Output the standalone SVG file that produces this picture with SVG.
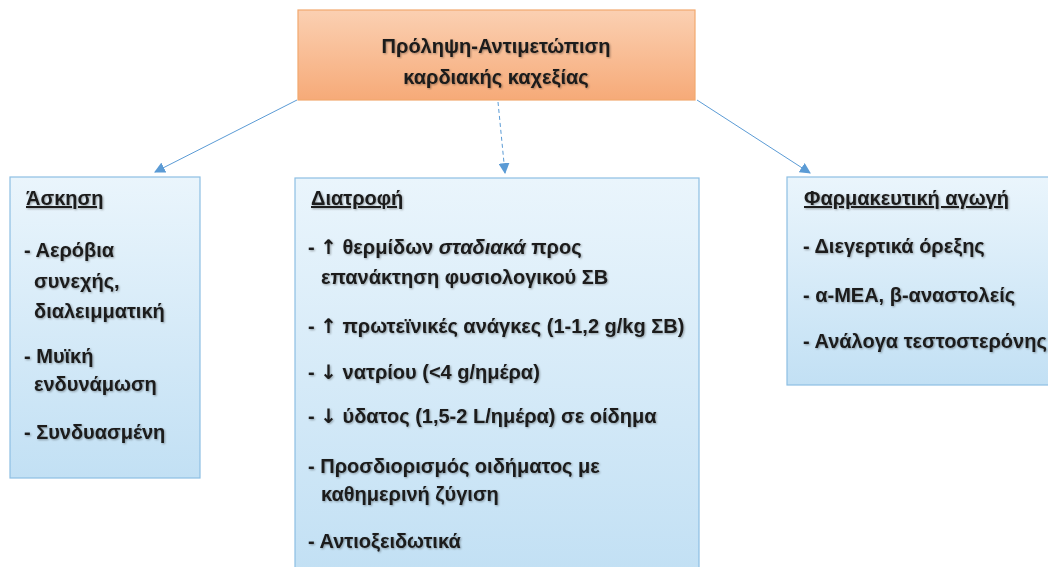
<svg xmlns="http://www.w3.org/2000/svg" width="1048" height="567" viewBox="0 0 1048 567">
<defs>
<linearGradient id="gOr" x1="0" y1="0" x2="0" y2="1">
<stop offset="0" stop-color="#fbd0b2"/>
<stop offset="1" stop-color="#f6aa78"/>
</linearGradient>
<linearGradient id="gBl" x1="0" y1="0" x2="0" y2="1">
<stop offset="0" stop-color="#eaf5fc"/>
<stop offset="1" stop-color="#c2e0f4"/>
</linearGradient>
<marker id="ah" viewBox="0 0 10 10" refX="9" refY="5" markerWidth="11" markerHeight="11" markerUnits="userSpaceOnUse" orient="auto">
<path d="M0,0 L10,5 L0,10 z" fill="#5b9bd5"/>
</marker>
<filter id="sh" x="-5%" y="-5%" width="110%" height="110%">
<feGaussianBlur in="SourceAlpha" stdDeviation="0.8"/>
<feOffset dx="1" dy="1" result="b"/>
<feComponentTransfer><feFuncA type="linear" slope="0.35"/></feComponentTransfer>
<feMerge><feMergeNode/><feMergeNode in="SourceGraphic"/></feMerge>
</filter>
</defs>
<style>
.t{font-family:"Liberation Sans",Arial,sans-serif;font-weight:bold;fill:#1a1a1a;font-size:20px}
.h{text-decoration:underline}
.ar{font-family:"DejaVu Sans",sans-serif;font-weight:bold}
.bl{fill:url(#gBl);stroke:#8dbfe3;stroke-width:1.2}
.or{fill:url(#gOr);stroke:#f2a86e;stroke-width:1.2}
.c{stroke:#5b9bd5;stroke-width:1;fill:none;marker-end:url(#ah)}
</style>
<rect width="1048" height="567" fill="#ffffff"/>
<g id="connectors">
<line class="c" x1="297" y1="100" x2="155" y2="172"/>
<line class="c" x1="498" y1="102" x2="505" y2="173" stroke-dasharray="4,3"/>
<line class="c" x1="697" y1="100" x2="810" y2="173"/>
</g>
<g id="root">
<rect class="or" x="298" y="10" width="397" height="90"/>
<text class="t" x="496" y="53" text-anchor="middle" filter="url(#sh)">Πρόληψη-Αντιμετώπιση</text>
<text class="t" x="496" y="84" text-anchor="middle" filter="url(#sh)">καρδιακής καχεξίας</text>
</g>
<g id="askisi">
<rect class="bl" x="10" y="177" width="190" height="301"/>
<g filter="url(#sh)">
<text class="t h" x="26" y="205">Άσκηση</text>
<text class="t" x="24" y="257">- Αερόβια</text>
<text class="t" x="34" y="288">συνεχής,</text>
<text class="t" x="34" y="318">διαλειμματική</text>
<text class="t" x="24" y="363">- Μυϊκή</text>
<text class="t" x="34" y="391">ενδυνάμωση</text>
<text class="t" x="24" y="439">- Συνδυασμένη</text>
</g>
</g>
<g id="diatrofi">
<rect class="bl" x="295" y="178" width="404" height="395"/>
<g filter="url(#sh)">
<text class="t h" x="311" y="205">Διατροφή</text>
<text class="t" x="308" y="254">- <tspan class="ar">↑</tspan> θερμίδων <tspan font-style="italic">σταδιακά</tspan> προς</text>
<text class="t" x="321" y="284">επανάκτηση φυσιολογικού ΣΒ</text>
<text class="t" x="308" y="333">- <tspan class="ar">↑</tspan> πρωτεϊνικές ανάγκες (1-1,2 g/kg ΣΒ)</text>
<text class="t" x="308" y="379">- <tspan class="ar">↓</tspan> νατρίου (&lt;4 g/ημέρα)</text>
<text class="t" x="308" y="423">- <tspan class="ar">↓</tspan> ύδατος (1,5-2 L/ημέρα) σε οίδημα</text>
<text class="t" x="308" y="473">- Προσδιορισμός οιδήματος με</text>
<text class="t" x="321" y="501">καθημερινή ζύγιση</text>
<text class="t" x="308" y="548">- Αντιοξειδωτικά</text>
</g>
</g>
<g id="farmaka">
<rect class="bl" x="787" y="177" width="270" height="208"/>
<g filter="url(#sh)">
<text class="t h" x="804" y="205">Φαρμακευτική αγωγή</text>
<text class="t" x="803" y="253">- Διεγερτικά όρεξης</text>
<text class="t" x="803" y="302">- α-ΜΕΑ, β-αναστολείς</text>
<text class="t" x="803" y="348">- Ανάλογα τεστοστερόνης</text>
</g>
</g>
</svg>
